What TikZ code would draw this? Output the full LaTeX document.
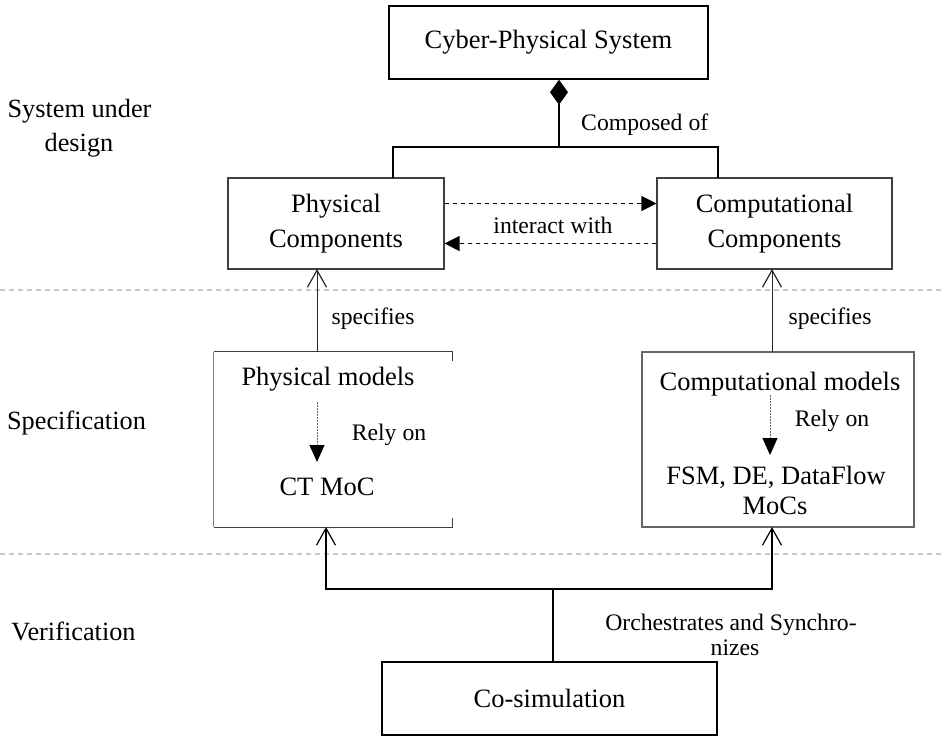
\documentclass[tikz,border=0pt]{standalone}
\usepackage{fontspec}
\setmainfont{Liberation Serif}
\usetikzlibrary{arrows.meta}
\begin{document}
\begin{tikzpicture}[x=1pt,y=-1pt,
  boxtxt/.style={font=\fontsize{26.5}{35}\selectfont},
  lbl/.style={font=\fontsize{23.7}{26}\selectfont, inner sep=0pt, anchor=base},
  side/.style={font=\fontsize{26.3}{33}\selectfont, inner sep=0pt, anchor=base},
  blk/.style={draw=black, line width=1.5pt, inner sep=0pt, boxtxt},
  soft/.style={draw=black!75, line width=1.1pt, inner sep=0pt, boxtxt},
  sep/.style={draw=black!22, line width=1.2pt, dash pattern=on 5pt off 4pt},
  link/.style={line width=2pt},
  thinlink/.style={draw=black!85, line width=0.9pt},
  interact/.style={line width=1.2pt, dash pattern=on 4pt off 4pt,
    -{Triangle[length=15pt,width=15pt]}},
  rely/.style={draw=black!60, line width=1pt, dash pattern=on 1.5pt off 1.5pt,
    -{Triangle[length=17pt,width=15pt,color=black]}},
  openhead/.style={-{Straight Barb[length=17pt,width=19pt,line width=1.2pt]}},
]
\useasboundingbox (0,0) rectangle (942,736);

% layer separators
\draw[sep] (0,290) -- (942,290);
\draw[sep] (0,554) -- (942,554);

% layer names
\node[side] (l1a) at (79.5,117) {System under};
\node[side] (l1b) at (79,151) {design};
\node[side] (l2) at (76.5,429) {Specification};
\node[side] (l3) at (73.5,640) {Verification};

% system under design
\node[blk, minimum width=319pt, minimum height=73pt] (cps) at (548.5,42.5) {Cyber-Physical System};
\node[soft, minimum width=216pt, minimum height=91pt, align=center] (phys) at (336,223.5) {Physical\\Components};
\node[soft, minimum width=235pt, minimum height=91pt, align=center] (comp) at (774.5,223.5) {Computational\\Components};

% composition
\coordinate (jn) at (559,147);
\coordinate (pjn) at (393,178);
\coordinate (cjn) at (718,178);
\draw[line width=1.2pt, {Diamond[length=25pt,width=18pt]}-] (cps.south -| jn) -- (jn);
\draw[link] (pjn) |- (jn) -| (cjn);
\node[lbl, anchor=base west] (composed) at (581,130) {Composed of};

% interaction
\draw[interact] ([yshift=20pt]phys.east) -- ([yshift=20pt]comp.west);
\draw[interact] ([yshift=-20pt]comp.west) -- ([yshift=-20pt]phys.east);
\node[lbl] (inter) at (553,233) {interact with};

% specification: physical models
\node[minimum width=238pt, minimum height=175pt, inner sep=0pt] (pm) at (333,439.5) {};
\draw[draw=black!75, line width=1.1pt] ([yshift=-9pt]pm.north east) -- (pm.north east) -- (pm.north west);
\draw[draw=black!50, line width=1pt] (pm.north west) -- (pm.south west);
\draw[draw=black!75, line width=1.1pt] (pm.south west) -- (pm.south east) -- ([yshift=9pt]pm.south east);
\node[boxtxt, anchor=base] (pmt) at (328,385) {Physical models};
\node[boxtxt, anchor=base] (ctm) at (327,495) {CT MoC};
\coordinate (r1a) at (317,402);
\coordinate (r1b) at (317,462);
\draw[rely] (r1a) -- (r1b);
\node[lbl] (rely1) at (389,440) {Rely on};

% specification: computational models
\node[draw=black!60, line width=1.1pt, minimum width=272pt, minimum height=175pt, inner sep=0pt] (cm) at (778,439.5) {};
\node[boxtxt, anchor=base] (cmt) at (780,390) {Computational models};
\node[boxtxt, anchor=base] (fsm) at (776,484) {FSM, DE, DataFlow};
\node[boxtxt, anchor=base] (mocs) at (775,514) {MoCs};
\coordinate (r2a) at (770,395);
\coordinate (r2b) at (770,455);
\draw[rely] (r2a) -- (r2b);
\node[lbl] (rely2) at (832,426) {Rely on};

% specifies
\coordinate (s1a) at (317,352);
\coordinate (s1b) at (317,269);
\coordinate (s2a) at (772,352);
\coordinate (s2b) at (772,269);
\draw[thinlink, openhead] (s1a) -- (s1b);
\draw[thinlink, openhead] (s2a) -- (s2b);
\node[lbl] (spec1) at (373,324) {specifies};
\node[lbl] (spec2) at (830,324) {specifies};

% verification
\node[blk, minimum width=335pt, minimum height=73pt] (cosim) at (549.5,698.5) {Co-simulation};
\coordinate (bj) at (553,589);
\coordinate (b1) at (326,527);
\coordinate (b2) at (772,527);
\draw[link] (cosim.north -| bj) -- (bj);
\draw[link, openhead] (bj) -| (b1);
\draw[link, openhead] (bj) -| (b2);
\node[lbl] (orch1) at (731,630) {Orchestrates and Synchro-};
\node[lbl] (orch2) at (735,655) {nizes};
\end{tikzpicture}
\end{document}
